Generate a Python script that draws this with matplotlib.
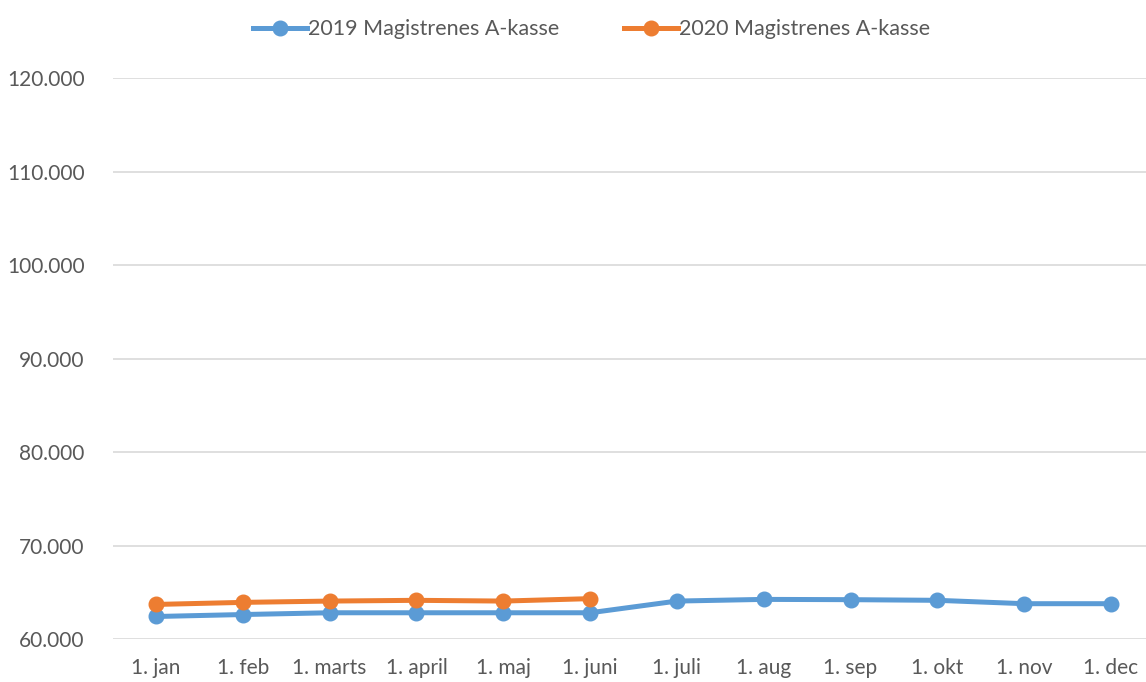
import matplotlib.pyplot as plt
import numpy as np

months = ['1. jan', '1. feb', '1. marts', '1. april', '1. maj', '1. juni',
          '1. juli', '1. aug', '1. sep', '1. okt', '1. nov', '1. dec']
ledige_2019 = [62410, 62620, 62810, 62810, 62810, 62810,
               64060, 64240, 64210, 64140, 63780, 63780]
ledige_2020 = [63700, 63920, 64060, 64140, 64060, 64320]
yticks = np.arange(60000, 120001, 10000)

plt.rcParams['font.family'] = ['Lato', 'DejaVu Sans']
txt = '#595959'

fig = plt.figure(figsize=(11.46, 6.82), dpi=100)
ax = fig.add_axes([0.0983, 0.063, 0.909, 0.8226])

x = np.arange(len(months))
ax.plot(x, ledige_2019, color='#5B9BD5', lw=3.6, marker='o', ms=10.5,
        label='2019 Magistrenes A-kasse', zorder=3)
ax.plot(x[:len(ledige_2020)], ledige_2020, color='#ED7D31', lw=3.6, marker='o', ms=10.5,
        label='2020 Magistrenes A-kasse', zorder=4)

ax.set_xlim(-0.5, len(months) - 0.5)
ax.set_ylim(60000, 120000)
ax.set_yticks(yticks)
ax.set_yticklabels([f'{v:,}'.replace(',', '.') for v in yticks])
ax.set_xticks(x)
ax.set_xticklabels(months)
ax.tick_params(length=0, labelsize=15, colors=txt)
ax.tick_params(axis='y', pad=20)
ax.tick_params(axis='x', pad=14)
ax.grid(axis='y', color='#D9D9D9', lw=1.2)
ax.set_axisbelow(True)
for s in ax.spines.values():
    s.set_visible(False)

leg = fig.legend(loc='upper center', bbox_to_anchor=(0.516, 1.0), ncol=2, frameon=False,
                 fontsize=15.5, handlelength=2.5, columnspacing=3.0, handletextpad=0.05)
for t in leg.get_texts():
    t.set_color(txt)

fig.savefig('out.png', dpi=100)
